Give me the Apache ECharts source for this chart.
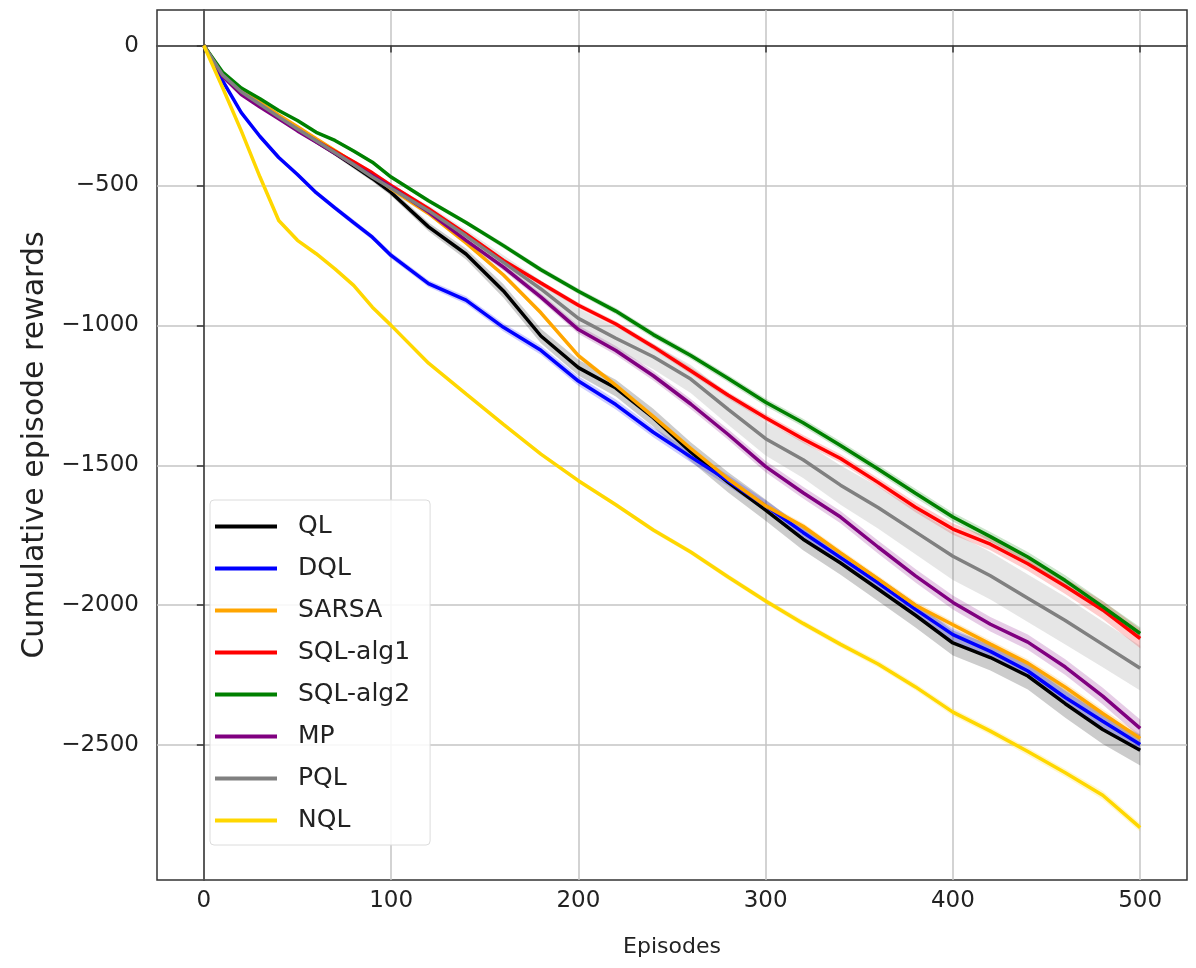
<!DOCTYPE html>
<html>
<head>
    <meta charset="utf-8">
    <title>Cumulative episode rewards</title>
    <script src="https://cdn.jsdelivr.net/npm/echarts@6/dist/echarts.min.js"></script>
    <style>
        body { margin: 0; padding: 0; background: #fff; }
        #chart { width: 1196px; height: 968px; }
    </style>
</head>
<body>
    <div id="chart"></div>
    <script>
        // x sample points (episodes)
        const episodes = [0, 10, 20, 30, 40, 50, 60, 70, 80, 90, 100, 120, 140, 160, 180, 200, 220, 240, 260, 280, 300, 320, 340, 360, 380, 400, 420, 440, 460, 480, 500];

        // mean cumulative rewards
        const ql = [0, -108, -168, -212, -258, -300, -343, -385, -430, -475, -525, -648, -745, -877, -1038, -1151, -1224, -1330, -1452, -1561, -1660, -1764, -1849, -1942, -2036, -2135, -2187, -2253, -2352, -2444, -2518];
        const dql = [0, -125, -240, -325, -400, -461, -526, -580, -633, -685, -750, -851, -910, -1007, -1089, -1199, -1283, -1382, -1470, -1555, -1645, -1740, -1830, -1920, -2015, -2105, -2165, -2235, -2330, -2415, -2498];
        const sarsa = [0, -102, -160, -203, -248, -290, -333, -375, -418, -460, -512, -600, -705, -820, -955, -1108, -1214, -1326, -1440, -1549, -1645, -1718, -1813, -1906, -2000, -2070, -2139, -2207, -2293, -2387, -2476];
        const sqlAlg1 = [0, -105, -170, -212, -258, -300, -340, -378, -415, -455, -500, -583, -673, -768, -849, -928, -995, -1076, -1162, -1250, -1330, -1406, -1476, -1561, -1650, -1728, -1782, -1852, -1932, -2017, -2119];
        const sqlAlg2 = [0, -95, -152, -190, -232, -268, -310, -339, -377, -417, -470, -555, -632, -715, -801, -878, -949, -1033, -1108, -1190, -1275, -1348, -1429, -1513, -1600, -1685, -1755, -1828, -1912, -2005, -2101];
        const mp = [0, -110, -175, -220, -262, -305, -345, -385, -425, -465, -506, -595, -696, -792, -899, -1015, -1090, -1180, -1281, -1390, -1505, -1598, -1685, -1792, -1895, -1990, -2068, -2132, -2221, -2325, -2440];
        const pql = [0, -105, -165, -210, -255, -298, -340, -382, -425, -470, -510, -590, -680, -775, -870, -975, -1046, -1112, -1192, -1300, -1405, -1480, -1571, -1651, -1738, -1825, -1895, -1975, -2055, -2140, -2225];
        const nql = [0, -150, -305, -470, -625, -696, -744, -798, -857, -935, -1000, -1135, -1245, -1354, -1460, -1555, -1641, -1731, -1810, -1899, -1985, -2065, -2140, -2210, -2292, -2382, -2450, -2523, -2599, -2679, -2795];

        // half width of the shaded band around each mean
        const qlSpread = [0, 3, 5, 6, 7, 8, 9, 10, 10, 11, 12, 16, 20, 24, 26, 28, 30, 32, 34, 36, 38, 40, 42, 43, 44, 45, 46, 48, 50, 52, 55];
        const dqlSpread = [0, 3, 5, 6, 7, 8, 8, 9, 10, 10, 11, 12, 14, 15, 16, 17, 18, 18, 19, 20, 20, 20, 21, 21, 22, 22, 22, 23, 23, 24, 25];
        const sarsaSpread = [0, 2, 3, 4, 4, 5, 5, 5, 6, 6, 6, 7, 8, 8, 9, 9, 10, 10, 10, 11, 11, 12, 12, 12, 13, 13, 14, 14, 15, 15, 16];
        const sqlAlg1Spread = [0, 2, 3, 4, 4, 5, 5, 5, 6, 6, 6, 7, 8, 8, 9, 10, 10, 11, 12, 12, 13, 14, 15, 16, 18, 20, 22, 25, 28, 32, 35];
        const sqlAlg2Spread = [0, 2, 3, 4, 4, 5, 5, 5, 6, 6, 7, 8, 8, 9, 10, 10, 11, 12, 12, 13, 14, 14, 15, 15, 16, 16, 17, 18, 19, 20, 22];
        const mpSpread = [0, 2, 3, 4, 5, 5, 6, 6, 7, 7, 8, 10, 11, 12, 13, 15, 16, 17, 18, 19, 20, 21, 22, 23, 24, 25, 26, 27, 28, 30, 32];
        const pqlSpread = [0, 3, 5, 6, 7, 8, 9, 10, 11, 12, 14, 18, 22, 26, 30, 35, 40, 45, 50, 55, 60, 65, 70, 75, 80, 85, 85, 85, 85, 82, 80];
        const nqlSpread = [0, 2, 2, 3, 3, 4, 4, 4, 5, 5, 5, 6, 6, 7, 7, 8, 8, 9, 9, 10, 10, 11, 11, 12, 12, 13, 13, 14, 14, 15, 15];

        const xTicks = [0, 100, 200, 300, 400, 500];
        const yTicks = [0, -500, -1000, -1500, -2000, -2500];

        const methods = [
            { name: 'QL', mean: ql, spread: qlSpread, color: '#000000', rgb: '0,0,0' },
            { name: 'DQL', mean: dql, spread: dqlSpread, color: '#0000ff', rgb: '0,0,255' },
            { name: 'SARSA', mean: sarsa, spread: sarsaSpread, color: '#ffa500', rgb: '255,165,0' },
            { name: 'SQL-alg1', mean: sqlAlg1, spread: sqlAlg1Spread, color: '#ff0000', rgb: '255,0,0' },
            { name: 'SQL-alg2', mean: sqlAlg2, spread: sqlAlg2Spread, color: '#008000', rgb: '0,128,0' },
            { name: 'MP', mean: mp, spread: mpSpread, color: '#800080', rgb: '128,0,128' },
            { name: 'PQL', mean: pql, spread: pqlSpread, color: '#808080', rgb: '128,128,128' },
            { name: 'NQL', mean: nql, spread: nqlSpread, color: '#ffd700', rgb: '255,215,0' }
        ];

        const font = 'DejaVu Sans';
        const minus = v => String(v).replace('-', '\u2212');

        const series = [];
        methods.forEach(m => {
            // shaded band (mean +- spread) as one polygon through the axes
            series.push({
                name: m.name + ' band',
                type: 'custom',
                silent: true,
                data: episodes.map((x, k) => [x, m.mean[k] - m.spread[k], m.mean[k] + m.spread[k]]),
                encode: { x: 0, y: [1, 2] },
                renderItem: (params, api) => {
                    if (params.dataIndex !== 0) return null;
                    const upper = episodes.map((x, k) => api.coord([x, m.mean[k] + m.spread[k]]));
                    const lower = episodes.map((x, k) => api.coord([x, m.mean[k] - m.spread[k]])).reverse();
                    return {
                        type: 'polygon',
                        shape: { points: upper.concat(lower) },
                        style: { fill: 'rgba(' + m.rgb + ',0.2)' }
                    };
                }
            });
            series.push({
                name: m.name,
                type: 'line',
                data: episodes.map((x, k) => [x, m.mean[k]]),
                showSymbol: false,
                color: m.color,
                lineStyle: { color: m.color, width: 3.5 }
            });
        });

        const chart = echarts.init(document.getElementById('chart'));
        chart.setOption({
            animation: false,
            backgroundColor: '#fff',
            grid: {
                left: 157, right: 9, top: 10, bottom: 88,
                show: true, borderColor: '#333', borderWidth: 1.5
            },
            legend: {
                data: methods.map(m => m.name),
                orient: 'vertical',
                left: 210,
                top: 500,
                icon: 'rect',
                itemWidth: 62,
                itemHeight: 4,
                itemGap: 17,
                padding: [14, 20, 12, 5],
                backgroundColor: 'rgba(255,255,255,0.85)',
                borderColor: '#dcdcdc',
                borderWidth: 1,
                borderRadius: 4,
                textStyle: {
                    fontFamily: font, fontSize: 25, lineHeight: 25,
                    color: '#222', padding: [0, 0, 0, 16]
                }
            },
            xAxis: {
                type: 'value',
                min: -25,
                max: 525,
                name: 'Episodes',
                nameLocation: 'middle',
                nameGap: 56,
                nameTextStyle: { fontFamily: font, fontSize: 22, color: '#222' },
                axisLine: { show: true, lineStyle: { color: '#333', width: 1.5 } },
                axisTick: { show: true, length: 7, customValues: xTicks, lineStyle: { color: '#333', width: 1.5 } },
                axisLabel: { customValues: xTicks, margin: 10, fontFamily: font, fontSize: 23, color: '#222' },
                splitLine: { show: true, lineStyle: { color: '#c4c4c4', width: 1.5 } }
            },
            yAxis: {
                type: 'value',
                min: -2982,
                max: 127,
                name: 'Cumulative episode rewards',
                nameLocation: 'middle',
                nameGap: 105,
                nameTextStyle: { fontFamily: font, fontSize: 30, color: '#222' },
                axisLine: { show: true, lineStyle: { color: '#333', width: 1.5 } },
                axisTick: { show: true, length: 7, customValues: yTicks, lineStyle: { color: '#333', width: 1.5 } },
                axisLabel: {
                    customValues: yTicks, margin: 18, fontFamily: font, fontSize: 23, color: '#222',
                    formatter: v => minus(v)
                },
                splitLine: { show: true, lineStyle: { color: '#c4c4c4', width: 1.5 } }
            },
            series: series
        });
    </script>
</body>
</html>
